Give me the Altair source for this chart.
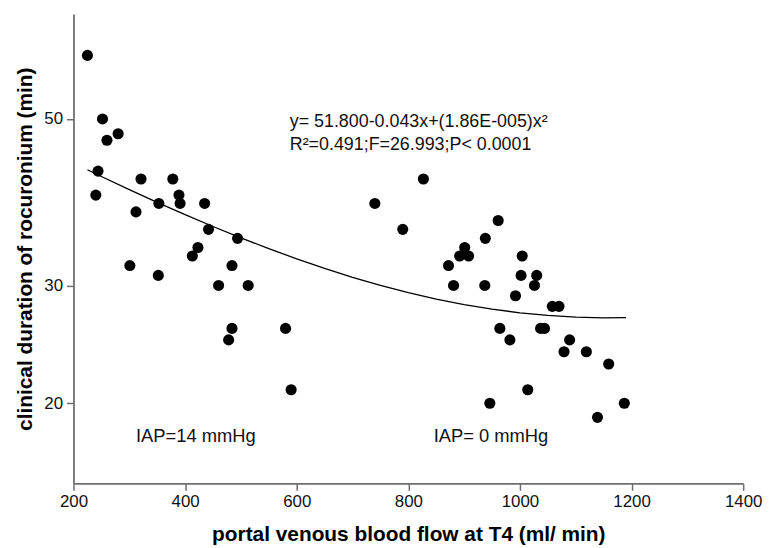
import altair as alt
import pandas as pd

# Scatter points: portal venous blood flow (ml/min) and clinical duration (min)
flow = [225, 252, 280, 260, 244, 240, 321, 378, 389, 391, 435, 353, 312, 442, 494, 423,
        413, 301, 484, 352, 460, 513, 484, 580, 478, 590,
        827, 740, 790, 961, 938, 901, 892, 908, 872, 881, 937, 1004, 1002, 1030, 1026,
        992, 1058, 1070, 964, 1037, 1044, 982, 1089, 1079, 1119, 1159, 1014, 946, 1187, 1139]
duration = [59.8, 50.0, 47.9, 47.0, 42.9, 39.9, 41.9, 41.9, 39.9, 38.9, 38.9, 38.9, 37.9, 35.9, 34.9, 33.9,
            33.0, 32.0, 32.0, 31.0, 30.0, 30.0, 26.0, 26.0, 25.0, 21.0,
            41.9, 38.9, 35.9, 36.9, 34.9, 33.9, 33.0, 33.0, 32.0, 30.0, 30.0, 33.0, 31.0, 31.0, 30.0,
            29.0, 28.0, 28.0, 26.0, 26.0, 26.0, 25.0, 25.0, 24.0, 24.0, 23.0, 21.0, 20.0, 20.0, 19.0]

# Fitted curve as drawn (y = 51.800 - 0.043x + 1.86e-5 x^2)
curve_x = [225, 250, 300, 350, 400, 450, 500, 550, 600, 650, 700, 750, 800, 850, 900,
           950, 1000, 1050, 1100, 1150, 1190]
curve_y = [43.07, 42.21, 40.57, 39.03, 37.58, 36.22, 34.95, 33.78, 32.70, 31.71, 30.81,
           30.01, 29.30, 28.69, 28.17, 27.74, 27.40, 27.16, 27.01, 26.95, 26.97]

x_ticks = [200, 400, 600, 800, 1000, 1200, 1400]
y_ticks = [20, 30, 50]

eq_line1 = "y= 51.800-0.043x+(1.86E-005)x²"
eq_line2 = "R²=0.491;F=26.993;P< 0.0001"
label_14 = "IAP=14 mmHg"
label_0 = "IAP= 0 mmHg"

pts = pd.DataFrame({"flow": flow, "duration": duration})
crv = pd.DataFrame({"flow": curve_x, "duration": curve_y})

FONT = "Liberation Sans"
W, H = 675, 473

xs = alt.Scale(domain=[200, 1400], nice=False, zero=False)
ys = alt.Scale(type="pow", exponent=0.25, domain=[14.8, 66.9], nice=False, zero=False)

x_axis = alt.Axis(values=x_ticks, grid=False, format="d",
                  title="portal venous blood flow at T4 (ml/ min)",
                  domainColor="#6e6e6e", domainWidth=1.8, tickColor="#6e6e6e", tickWidth=1.5,
                  tickSize=7, labelFont=FONT, labelFontSize=17, labelColor="#111",
                  labelPadding=3, labelFlush=False, titleFont=FONT, titleFontSize=21,
                  titleFontWeight="bold", titleColor="#000", titleY=52, titleBaseline="middle")
y_axis = alt.Axis(values=y_ticks, grid=False, format="d",
                  title="clinical duration of rocuronium (min)",
                  domainColor="#6e6e6e", domainWidth=1.8, tickColor="#6e6e6e", tickWidth=1.5,
                  tickSize=7, labelFont=FONT, labelFontSize=17, labelColor="#111",
                  labelPadding=4, titleFont=FONT, titleFontSize=21, titleFontWeight="bold",
                  titleColor="#000", titleX=-48, titleY=H / 2, titleAngle=-90,
                  titleBaseline="middle", titleAlign="center")

points = alt.Chart(pts).mark_circle(size=125, color="black", opacity=1).encode(
    x=alt.X("flow:Q", scale=xs, axis=x_axis),
    y=alt.Y("duration:Q", scale=ys, axis=y_axis),
)

line = alt.Chart(crv).mark_line(color="black", strokeWidth=1.3).encode(
    x=alt.X("flow:Q", scale=xs),
    y=alt.Y("duration:Q", scale=ys),
)


def note(text, px, py, size):
    return alt.Chart(pd.DataFrame({"t": [text]})).mark_text(
        font=FONT, fontSize=size, align="left", baseline="middle", color="#111"
    ).encode(text="t:N", x=alt.value(px), y=alt.value(py))


eq1 = note(eq_line1, 292 - 74, 121 - 12, 18)
eq2 = note(eq_line2, 292 - 74, 144 - 12, 18)
lab14 = note(label_14, 137 - 74, 437 - 12, 18.5)
lab0 = note(label_0, 437 - 74, 437 - 12, 18.5)

chart = alt.layer(points, line, eq1, eq2, lab14, lab0).properties(
    width=W, height=H,
    autosize=alt.AutoSizeParams(type="none"),
    padding={"left": 66, "top": 4, "right": 22, "bottom": 60},
).configure(background="white").configure_view(stroke=None, strokeWidth=0)

chart.save("out.html", embed_options={"renderer": "svg", "actions": False})
